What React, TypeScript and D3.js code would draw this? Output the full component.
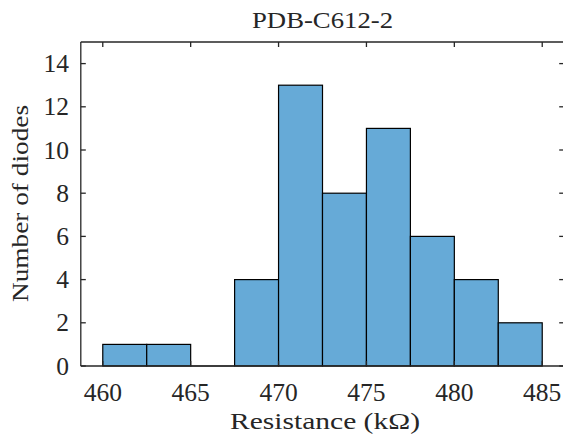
import React from "react";
import * as d3 from "d3";

const binStart = 460;
const binWidth = 2.5;
const counts = [1, 1, 0, 4, 13, 8, 11, 6, 4, 2];
const xTicks = [460, 465, 470, 475, 480, 485];
const yTicks = [0, 2, 4, 6, 8, 10, 12, 14];
const title = "PDB-C612-2";
const xLabel = "Resistance (kΩ)";
const yLabel = "Number of diodes";

const W = 563;
const H = 437;
const font = "'Liberation Serif', 'Times New Roman', serif";
const txt = "#262626";

export default function App() {
  const x = d3.scaleLinear().domain([458.75, 486.25]).range([80.8, 564.2]);
  const y = d3.scaleLinear().domain([0, 15]).range([366, 42]);
  const bins = counts.map((c, i) => ({ x0: binStart + i * binWidth, x1: binStart + (i + 1) * binWidth, c }));
  const [x0, x1] = x.range();
  const [yb, yt] = y.range();
  const tl = 5;
  return (
    <svg width={W} height={H} style={{ position: "absolute", left: 0, top: 0, background: "#fff" }}>
      <rect x={0} y={0} width={W} height={H} fill="#fff" />
      {bins.map((b, i) =>
        b.c > 0 ? (
          <rect
            key={i}
            x={x(b.x0)}
            y={y(b.c)}
            width={x(b.x1) - x(b.x0)}
            height={y(0) - y(b.c)}
            fill="#66AAD7"
            stroke="#000"
            strokeWidth={1.2}
          />
        ) : (
          <line key={i} x1={x(b.x0)} x2={x(b.x1)} y1={y(0)} y2={y(0)} stroke="#000" strokeWidth={1.2} />
        )
      )}
      <g stroke={txt} strokeWidth={1.3} fill="none">
        <line x1={x0} x2={x0} y1={yb} y2={yt} />
        <line x1={x1} x2={x1} y1={yb} y2={yt} />
        <line x1={x0} x2={x1} y1={yb} y2={yb} />
        <line x1={x0} x2={x1} y1={yt} y2={yt} />
        {xTicks.map((t) => (
          <g key={"xt" + t}>
            <line x1={x(t)} x2={x(t)} y1={yb} y2={yb - tl} />
            <line x1={x(t)} x2={x(t)} y1={yt} y2={yt + tl} />
          </g>
        ))}
        {yTicks.map((t) => (
          <g key={"yt" + t}>
            <line x1={x0} x2={x0 + tl} y1={y(t)} y2={y(t)} />
            <line x1={x1} x2={x1 - tl} y1={y(t)} y2={y(t)} />
          </g>
        ))}
      </g>
      <g fill={txt} fontFamily={font} fontSize={25.5}>
        {xTicks.map((t) => (
          <text key={"xl" + t} x={x(t)} y={401} textAnchor="middle">
            {t}
          </text>
        ))}
        {yTicks.map((t) => (
          <text key={"yl" + t} x={69} y={y(t)} dy="0.34em" textAnchor="end">
            {t}
          </text>
        ))}
        <text x={322.5} y={28} textAnchor="middle" fontSize={22.5} textLength={141} lengthAdjust="spacingAndGlyphs">
          {title}
        </text>
        <text x={325} y={429} textAnchor="middle" fontSize={23} textLength={190} lengthAdjust="spacingAndGlyphs">
          {xLabel}
        </text>
        <text
          transform="translate(27.5,203.5) rotate(-90)"
          textAnchor="middle"
          fontSize={23}
          textLength={197}
          lengthAdjust="spacingAndGlyphs"
        >
          {yLabel}
        </text>
      </g>
    </svg>
  );
}
